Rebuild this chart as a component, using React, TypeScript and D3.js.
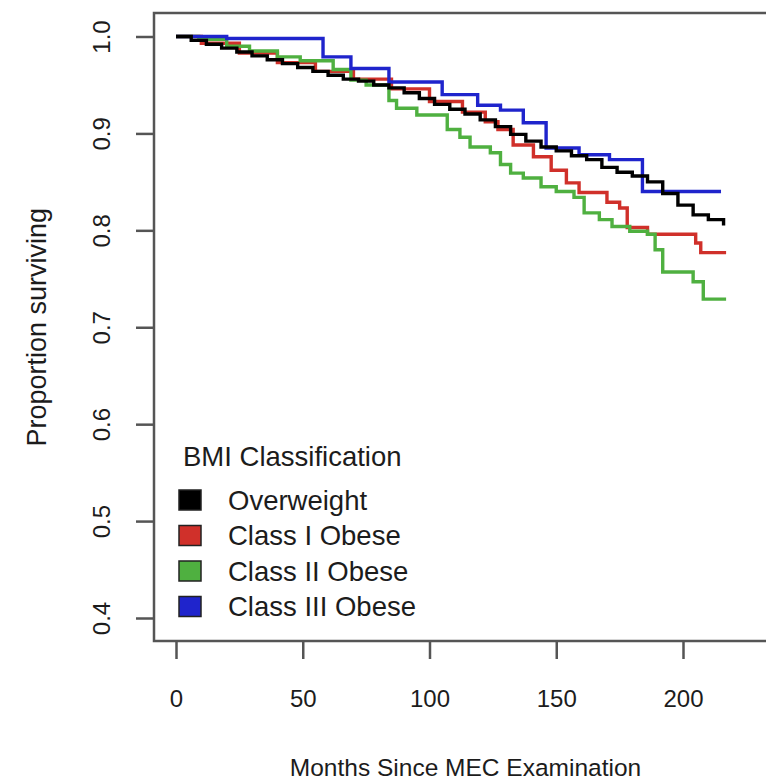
import React, { useRef, useEffect } from 'react'
import * as d3 from 'd3'

// survival curves: [months, proportion surviving]
const overweight: [number, number][] = [
  [0, 1.0], [6, 0.996], [12, 0.992], [18, 0.988], [24, 0.984], [30, 0.98],
  [36, 0.976], [42, 0.972], [48, 0.968], [54, 0.964], [60, 0.96], [66, 0.956],
  [72, 0.954], [78, 0.95], [84, 0.947], [90, 0.942], [96, 0.936], [102, 0.93],
  [108, 0.925], [114, 0.92], [120, 0.914], [126, 0.907], [132, 0.899], [138, 0.892],
  [144, 0.886], [150, 0.882], [156, 0.877], [162, 0.873], [168, 0.865], [174, 0.86],
  [180, 0.856], [186, 0.85], [192, 0.838], [198, 0.826], [204, 0.816], [210, 0.811],
  [216, 0.805],
]
const classI: [number, number][] = [
  [0, 1.0], [10, 0.993], [25, 0.983], [40, 0.973], [55, 0.964], [70, 0.956],
  [85, 0.946], [100, 0.933], [113, 0.922], [122, 0.912], [127, 0.904], [133, 0.888],
  [141, 0.876], [148, 0.862], [154, 0.849], [159, 0.839], [170, 0.829], [175, 0.823],
  [178, 0.803], [186, 0.796], [205, 0.787], [207, 0.777], [217, 0.777],
]
const classII: [number, number][] = [
  [0, 1.0], [9, 0.997], [20, 0.99], [29, 0.985], [40, 0.979], [49, 0.975], [62, 0.966],
  [69, 0.955], [75, 0.95], [84, 0.934], [87, 0.926], [95, 0.919], [107, 0.904],
  [112, 0.896], [116, 0.886], [124, 0.88], [128, 0.868], [132, 0.859], [137, 0.854],
  [144, 0.845], [150, 0.84], [157, 0.834], [161, 0.818], [167, 0.811], [172, 0.804],
  [179, 0.799], [186, 0.796], [189, 0.78], [192, 0.757], [204, 0.747], [208, 0.729],
  [217, 0.729],
]
const classIII: [number, number][] = [
  [0, 1.0], [20, 0.998], [58, 0.979], [69, 0.967], [84, 0.953], [105, 0.94],
  [119, 0.929], [128, 0.924], [137, 0.911], [146, 0.885], [159, 0.878], [171, 0.873],
  [184, 0.84], [215, 0.84],
]

const seriesNames = ['Overweight', 'Class I Obese', 'Class II Obese', 'Class III Obese']
const seriesData = [overweight, classI, classII, classIII]
const seriesColors = ['#000000', '#d0302a', '#4fb040', '#1f24cc']
const xTicks = [0, 50, 100, 150, 200]
const yTicks = [0.4, 0.5, 0.6, 0.7, 0.8, 0.9, 1.0]

const App: React.FC = () => {
  const svgRef = useRef<SVGSVGElement>(null)
  const width = 766
  const height = 780

  useEffect(() => {
    if (!svgRef.current) return
    const svg = d3.select(svgRef.current)
    svg.selectAll('*').remove()

    const font = '"Liberation Sans", Arial, Helvetica, sans-serif'
    const ink = '#1c1c1c'
    const axisGrey = '#555555'

    const xScale = d3.scaleLinear().domain([0, 200]).range([176, 683])
    const yScale = d3.scaleLinear().domain([0.4, 1.0]).range([618, 36.5])

    const box = { left: 154, top: 13, bottom: 641, right: 790 }

    // plot box (runs off the right edge)
    svg.append('rect')
      .attr('x', box.left)
      .attr('y', box.top)
      .attr('width', box.right - box.left)
      .attr('height', box.bottom - box.top)
      .attr('fill', 'none')
      .attr('stroke', axisGrey)
      .attr('stroke-width', 2.5)

    // x axis
    const xAxis = svg.append('g').attr('transform', `translate(0, ${box.bottom})`)
    xAxis.call(d3.axisBottom(xScale).tickValues(xTicks).tickSize(18).tickPadding(31).tickFormat(d3.format('d')))
    xAxis.select('.domain').remove()
    xAxis.selectAll('.tick line').attr('stroke', axisGrey).attr('stroke-width', 2.5)
    xAxis.selectAll('.tick text')
      .attr('fill', ink)
      .style('font-family', font)
      .style('font-size', '24px')

    // y axis with rotated labels
    const yAxis = svg.append('g').attr('transform', `translate(${box.left}, 0)`)
    yAxis.call(d3.axisLeft(yScale).tickValues(yTicks).tickSize(18).tickFormat(d3.format('.1f')))
    yAxis.select('.domain').remove()
    yAxis.selectAll('.tick line').attr('stroke', axisGrey).attr('stroke-width', 2.5)
    yAxis.selectAll('.tick text')
      .attr('x', null)
      .attr('dy', null)
      .attr('transform', 'translate(-44, 0) rotate(-90)')
      .attr('text-anchor', 'middle')
      .attr('fill', ink)
      .style('font-family', font)
      .style('font-size', '24px')

    // axis titles
    svg.append('text')
      .attr('x', (176 + 683) / 2 + 36)
      .attr('y', 776)
      .attr('text-anchor', 'middle')
      .attr('fill', ink)
      .style('font-family', font)
      .style('font-size', '24.5px')
      .text('Months Since MEC Examination')

    svg.append('text')
      .attr('transform', `translate(46, ${yScale(0.7)}) rotate(-90)`)
      .attr('text-anchor', 'middle')
      .attr('fill', ink)
      .style('font-family', font)
      .style('font-size', '27px')
      .text('Proportion surviving')

    // survival curves (step functions)
    const line = d3.line<[number, number]>()
      .x(d => xScale(d[0]))
      .y(d => yScale(d[1]))
      .curve(d3.curveStepAfter)

    const drawOrder = [1, 2, 3, 0]
    drawOrder.forEach(i => {
      svg.append('path')
        .datum(seriesData[i])
        .attr('fill', 'none')
        .attr('stroke', seriesColors[i])
        .attr('stroke-width', 3.4)
        .attr('stroke-linejoin', 'miter')
        .attr('d', line)
    })

    // legend
    const legend = svg.append('g').attr('transform', 'translate(183, 466)')
    legend.append('text')
      .attr('x', 0)
      .attr('y', 0)
      .attr('fill', ink)
      .style('font-family', font)
      .style('font-size', '27.5px')
      .text('BMI Classification')

    seriesNames.forEach((name, i) => {
      const cy = 34 + i * 35.5
      legend.append('rect')
        .attr('x', -4)
        .attr('y', cy - 10)
        .attr('width', 22)
        .attr('height', 20)
        .attr('fill', seriesColors[i])
        .attr('stroke', '#222')
        .attr('stroke-width', 1.5)
      legend.append('text')
        .attr('x', 45)
        .attr('y', cy)
        .attr('dy', '0.35em')
        .attr('fill', ink)
        .style('font-family', font)
        .style('font-size', '27.5px')
        .text(name)
    })
  }, [])

  return (
    <svg
      ref={svgRef}
      width={width}
      height={height}
      style={{ position: 'absolute', left: 0, top: 0, background: '#ffffff' }}
    />
  )
}

export default App
